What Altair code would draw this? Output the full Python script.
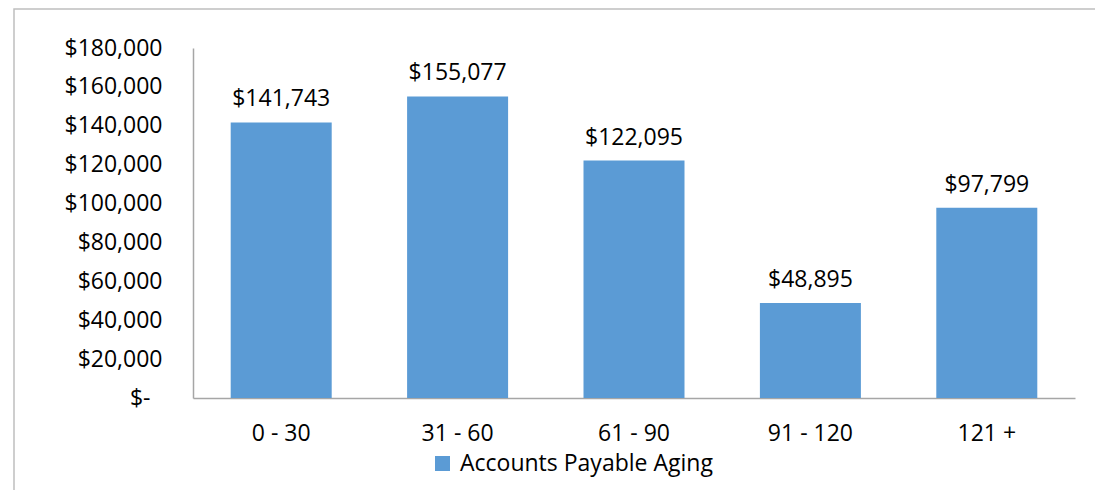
import pandas as pd
import altair as alt

buckets = ["0 - 30", "31 - 60", "61 - 90", "91 - 120", "121 +"]
payable = [141743, 155077, 122095, 48895, 97799]
series_name = "Accounts Payable Aging"

df = pd.DataFrame({"bucket": buckets, "amount": payable, "series": series_name})

FONT = "Open Sans"
BLUE = "#5B9BD5"
GRAY = "#A6A6A6"

base = alt.Chart(df).encode(
    x=alt.X("bucket:N", sort=buckets, title=None,
            scale=alt.Scale(paddingInner=0.43, paddingOuter=0.215),
            axis=alt.Axis(labelAngle=0, ticks=False, labelPadding=24,
                          domainColor=GRAY, domainWidth=1.5)),
    y=alt.Y("amount:Q", title=None,
            scale=alt.Scale(domain=[0, 180000], nice=False),
            axis=alt.Axis(values=list(range(0, 180001, 20000)), grid=False, ticks=False,
                          labelPadding={"condition": {"test": "datum.value == 0", "value": 43}, "value": 31},
                          domainColor=GRAY, domainWidth=1.5,
                          labelExpr="datum.value == 0 ? '$-' : '$' + format(datum.value, ',')")),
)

bars = base.mark_bar(size=101).encode(
    color=alt.Color("series:N", scale=alt.Scale(domain=[series_name], range=[BLUE]),
                    legend=alt.Legend(title=None, orient="none", legendX=238, legendY=404,
                                      symbolType="square", symbolSize=225, symbolStrokeWidth=0,
                                      labelFontSize=23, labelOffset=6, labelFont=FONT,
                                      labelColor="black", labelLimit=400)),
)

labels = base.mark_text(baseline="alphabetic", dy=-16, fontSize=23, font=FONT, color="black").encode(
    text=alt.Text("amount:Q", format="$,.0f"),
)

# light frame around the whole chart (only left and top edges fall inside the window)
frame = alt.Chart(pd.DataFrame({"k": [0]})).mark_rect(fill=None, stroke="#BFBFBF", strokeWidth=1.5).encode(
    x=alt.value(-179), x2=alt.value(960), y=alt.value(-39), y2=alt.value(520),
)

chart = (frame + bars + labels).properties(
    width=882, height=350,
    autosize=alt.AutoSizeParams(type="none"),
    padding={"left": 185, "top": 40, "right": 20, "bottom": 92},
).configure_view(stroke=None).configure_axis(
    labelFont=FONT, labelFontSize=23, labelColor="black",
)

chart.save("out.html", embed_options={"renderer": "svg", "actions": False})
